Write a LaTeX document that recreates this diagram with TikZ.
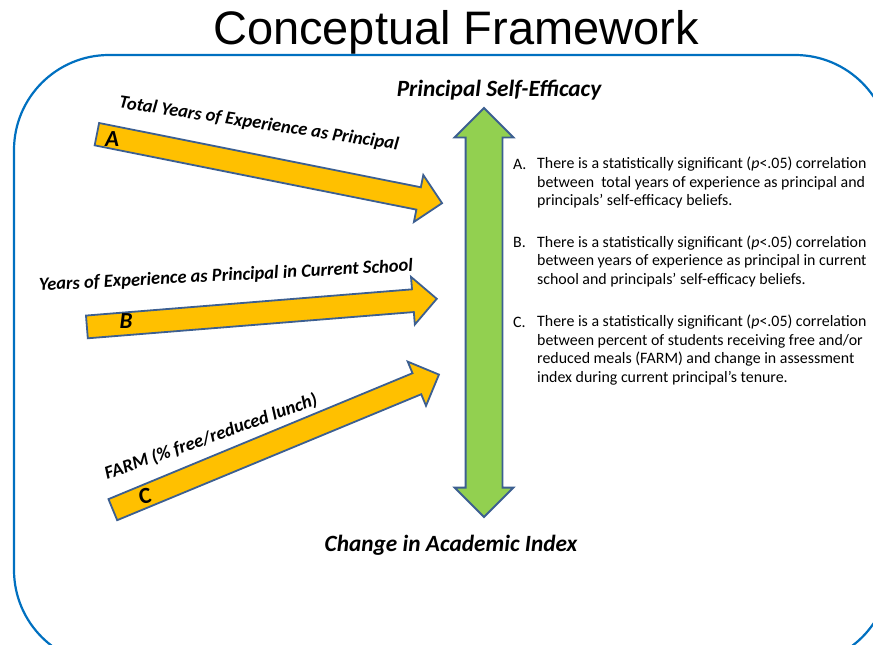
\documentclass[tikz,border=0pt]{standalone}
\usepackage{fontspec}
\setmainfont{Carlito}
\newfontfamily\titlefont{Liberation Sans}
\usetikzlibrary{shapes.arrows, positioning, calc}

\definecolor{frameblue}{RGB}{0,112,192}
\definecolor{arrowline}{RGB}{60,95,145}
\definecolor{gold}{RGB}{255,192,0}
\definecolor{leaf}{RGB}{146,208,80}

\tikzset{
  fatarrow/.style={single arrow, draw=arrowline, line width=1.8pt, fill=gold,
    inner xsep=0pt, inner ysep=10.5pt, text height=0pt, text depth=0pt,
    single arrow head extend=12.5pt, anchor=tail},
  sidelabel/.style={font=\bfseries\itshape\fontsize{18.5}{22}\selectfont, inner sep=0pt},
  letter/.style={font=\bfseries\itshape\fontsize{23}{26}\selectfont, inner sep=0pt},
  heading/.style={font=\bfseries\itshape\fontsize{23.3}{27}\selectfont, inner sep=0pt, anchor=base},
  itemtext/.style={font=\fontsize{15.9}{18.4}\selectfont, align=left, inner sep=0pt, anchor=north west},
}

\begin{document}
\begin{tikzpicture}[x=1pt, y=-1pt]
        \useasboundingbox (0,0) rectangle (873,645);

        % Frame and title
        \begin{scope}
            \clip (0,0) rectangle (873,645);
            \draw[frameblue, line width=2.2pt, rounded corners=95pt] (14,55) rectangle (890,665);
        \end{scope}
        \node[font=\titlefont\fontsize{47}{50}\selectfont, anchor=base, inner sep=0pt] (title) at (456,44) {Conceptual Framework};

        % Green double arrow
        \node[double arrow, draw=arrowline, line width=1.8pt, fill=leaf, rotate=90,
              inner xsep=0pt, inner ysep=17.5pt, text height=0pt, text depth=0pt,
              double arrow head extend=11pt, minimum height=409pt] (axis) at (484,312.5) {};
        \node[heading] (top) at (499,96) {Principal Self-Efficacy};
        \node[heading] (bottom) at (451,551) {Change in Academic Index};

        % Predictor arrows
        \node[fatarrow, minimum height=352pt, rotate=-11.3] (arrA) at (96,134) {};
        \node[fatarrow, minimum height=351pt, rotate=4.6] (arrB) at (86,327) {};
        \node[fatarrow, minimum height=353pt, rotate=22.5] (arrC) at (112,510) {};

        \node[letter] (A) at (112,139) {A};
        \node[letter] (B) at (126,321) {B};
        \node[letter, font=\bfseries\fontsize{23}{26}\selectfont, rotate=10] (C) at (145,496) {C};

        \node[sidelabel, rotate=-8.6] (labA) at (259,124) {Total Years of Experience as Principal};
        \node[sidelabel, rotate=3] (labB) at (226,276) {Years of Experience as Principal in Current School};
        \node[sidelabel, rotate=19.5] (labC) at (211,437) {FARM (\% free/reduced lunch)};

        % Findings
        \node[itemtext] (txtA) at (537,157) {There is a statistically significant (\textit{p}<.05) correlation\\between\ \ total years of experience as principal and\\principals’ self-efficacy beliefs.};
        \node[itemtext] (txtB) at (537,235.7) {There is a statistically significant (\textit{p}<.05) correlation\\between years of experience as principal in current\\school and principals’ self-efficacy beliefs.};
        \node[itemtext] (txtC) at (537,315) {There is a statistically significant (\textit{p}<.05) correlation\\between percent of students receiving free and/or\\reduced meals (FARM) and change in assessment\\index during current principal’s tenure.};
        \node[itemtext, anchor=base west] (itA) at (513,169) {A.};
        \node[itemtext, anchor=base west] (itB) at (513,247.7) {B.};
        \node[itemtext, anchor=base west] (itC) at (513,327) {C.};
\end{tikzpicture}
\end{document}
